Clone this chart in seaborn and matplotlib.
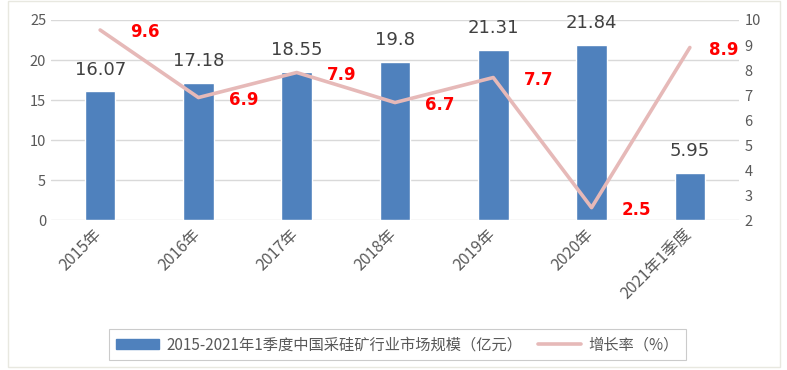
import numpy as np
import pandas as pd
import matplotlib
matplotlib.use("Agg")
import matplotlib.pyplot as plt
import seaborn as sns
from matplotlib.patches import Rectangle
from matplotlib.lines import Line2D
from matplotlib.patches import Patch
import matplotlib.transforms as mtransforms

categories = ["2015年", "2016年", "2017年", "2018年", "2019年", "2020年", "2021年1季度"]
market_size = [16.07, 17.18, 18.55, 19.8, 21.31, 21.84, 5.95]
growth_rate = [9.6, 6.9, 7.9, 6.7, 7.7, 2.5, 8.9]
bar_label_text = ["16.07", "17.18", "18.55", "19.8", "21.31", "21.84", "5.95"]
left_ticks = [0, 5, 10, 15, 20, 25]
right_ticks = [2, 3, 4, 5, 6, 7, 8, 9, 10]
bar_name = "2015-2021年1季度中国采硅矿行业市场规模（亿元）"
line_name = "增长率（%）"

sns.set_theme(style="white")
plt.rcParams['font.family'] = ['Noto Sans CJK SC', 'DejaVu Sans']

BAR_C = "#4F81BD"
LINE_C = "#E6B9B8"
TXT_C = "#595959"

df = pd.DataFrame({"cat": categories, "size": market_size, "rate": growth_rate})

fig = plt.figure(figsize=(7.87, 3.70), dpi=100)
ax = fig.add_axes([0.0648, 0.405, 0.8742, 0.541])
sns.barplot(data=df, x="cat", y="size", color=BAR_C, width=0.31, saturation=1, ax=ax)
ax.set_ylim(0, 25)
ax.set_yticks(left_ticks)
ax.set_xlim(-0.5, len(categories) - 0.5)
ax.grid(axis='y', color="#D9D9D9", linewidth=1)
ax.set_axisbelow(True)
for s in ax.spines.values():
    s.set_visible(False)
ax.set_xlabel("")
ax.set_ylabel("")
ax.tick_params(axis='both', length=0, colors=TXT_C, labelsize=10.5)
ax.set_xticks(range(len(categories)))
ax.set_xticklabels(categories, rotation=45, ha='right', rotation_mode='anchor', fontsize=11.5)
ax.tick_params(axis='x', pad=4)
shift = mtransforms.ScaledTranslation(-5 / 72, 0, fig.dpi_scale_trans)
for lbl in ax.get_xticklabels():
    lbl.set_transform(lbl.get_transform() + shift)
for i, (v, t) in enumerate(zip(market_size, bar_label_text)):
    ax.text(i, v + 1.6, t, ha='center', va='bottom', fontsize=13, color="#404040",
            family=['DejaVu Sans'])

ax2 = ax.twinx()
sns.lineplot(x=np.arange(len(categories)), y=growth_rate, color=LINE_C, linewidth=2.6, ax=ax2)
ax2.set_ylim(2, 10)
ax2.set_yticks(right_ticks)
ax2.set_xlim(-0.5, len(categories) - 0.5)
for s in ax2.spines.values():
    s.set_visible(False)
ax2.tick_params(axis='y', length=0, colors=TXT_C, labelsize=10.5, pad=4)
ax2.set_ylabel("")
for i, v in enumerate(growth_rate):
    dx = 0.46 if i < len(categories) - 1 else 0.34
    ax2.text(i + dx, v - 0.1, f"{v}", ha='center', va='center', fontsize=12,
             fontweight='bold', color="#FF0000", family=['DejaVu Sans'])

handles = [Patch(facecolor=BAR_C, edgecolor=BAR_C),
           Line2D([0], [0], color=LINE_C, linewidth=2.6)]
leg = fig.legend(handles, [bar_name, line_name], loc='center', bbox_to_anchor=(0.505, 0.068),
                 ncol=2, frameon=True, fontsize=11, fancybox=False, edgecolor="#BFBFBF",
                 handlelength=2.8, columnspacing=1.0, handletextpad=0.5,
                 borderpad=0.45)
for t in leg.get_texts():
    t.set_color(TXT_C)
leg.get_frame().set_linewidth(0.8)

fig.patches.append(Rectangle((0.010, 0.008), 0.981, 0.99, transform=fig.transFigure,
                             fill=False, edgecolor="#E8E8E0", linewidth=1))

fig.savefig("out.png", dpi=100)
